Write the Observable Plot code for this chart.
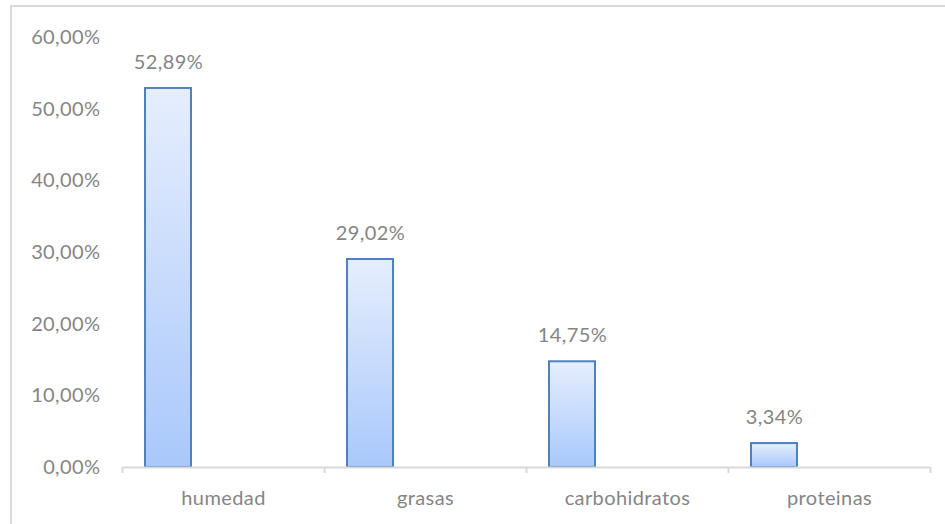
<!DOCTYPE html>
<html>
<head>
<meta charset="utf-8">
<script src="https://cdn.jsdelivr.net/npm/d3@7"></script>
<script src="https://cdn.jsdelivr.net/npm/@observablehq/plot@0.6"></script>
<style>
  html, body { margin: 0; padding: 0; background: #fff; width: 945px; height: 524px; overflow: hidden; }
  #frame { position: absolute; left: 10px; top: 5px; width: 1200px; height: 800px; border-left: 2px solid #d9d9d9; border-top: 2px solid #d9d9d9; box-sizing: border-box; }
  #chart { position: absolute; left: 0; top: 0; }
</style>
</head>
<body>
<div id="frame"></div>
<div id="chart"></div>
<script>
const categories = ["humedad", "grasas", "carbohidratos", "proteinas"];
const values = [52.89, 29.02, 14.75, 3.34];
const yTicks = [0, 10, 20, 30, 40, 50, 60];

const data = categories.map((c, i) => ({cat: c, v: values[i]}));
const fmt = d => d.toFixed(2).replace(".", ",") + "%";
const textColor = "#858585";
const font = "Lato, 'Open Sans', sans-serif";

const plot = Plot.plot({
  width: 945,
  height: 524,
  marginLeft: 122,
  marginRight: 15,
  marginTop: 37,
  marginBottom: 57,
  style: {fontFamily: font, fontSize: "20px", color: textColor, background: "transparent", overflow: "visible", letterSpacing: "0.4px"},
  x: {domain: categories, padding: 0, label: null},
  y: {domain: [0, 60], label: null},
  marks: [
    Plot.axisY(yTicks, {tickSize: 0, tickPadding: 22, tickFormat: fmt, fill: textColor, fontSize: 20, label: null}),
    Plot.axisX({tickSize: 0, tickPadding: 23, fill: textColor, fontSize: 20, label: null}),
    Plot.barY(data, {x: "cat", y: "v", insetLeft: 23, insetRight: 133, fill: "url(#barGrad)", stroke: "#4f81bd", strokeWidth: 2}),
    Plot.ruleY([0], {stroke: "#d9d9d9", strokeWidth: 2}),
    Plot.ruleX(categories, {x: d => d, y1: 0, y2: 0, dx: -101, insetBottom: -6, stroke: "#d9d9d9", strokeWidth: 2}),
    Plot.ruleX(categories.slice(-1), {x: d => d, y1: 0, y2: 0, dx: 101, insetBottom: -6, stroke: "#d9d9d9", strokeWidth: 2}),
    Plot.text(data, {x: "cat", y: "v", text: d => fmt(d.v), dx: -55, dy: -26, fill: textColor, fontSize: 20})
  ]
});

const svg = d3.select(plot);
const defs = svg.insert("defs", ":first-child");
const g = defs.append("linearGradient").attr("id", "barGrad").attr("x1", 0).attr("y1", 0).attr("x2", 0).attr("y2", 1);
g.append("stop").attr("offset", "0%").attr("stop-color", "#e6eefd");
g.append("stop").attr("offset", "100%").attr("stop-color", "#a9c8fb");

document.getElementById("chart").appendChild(plot);
</script>
</body>
</html>
